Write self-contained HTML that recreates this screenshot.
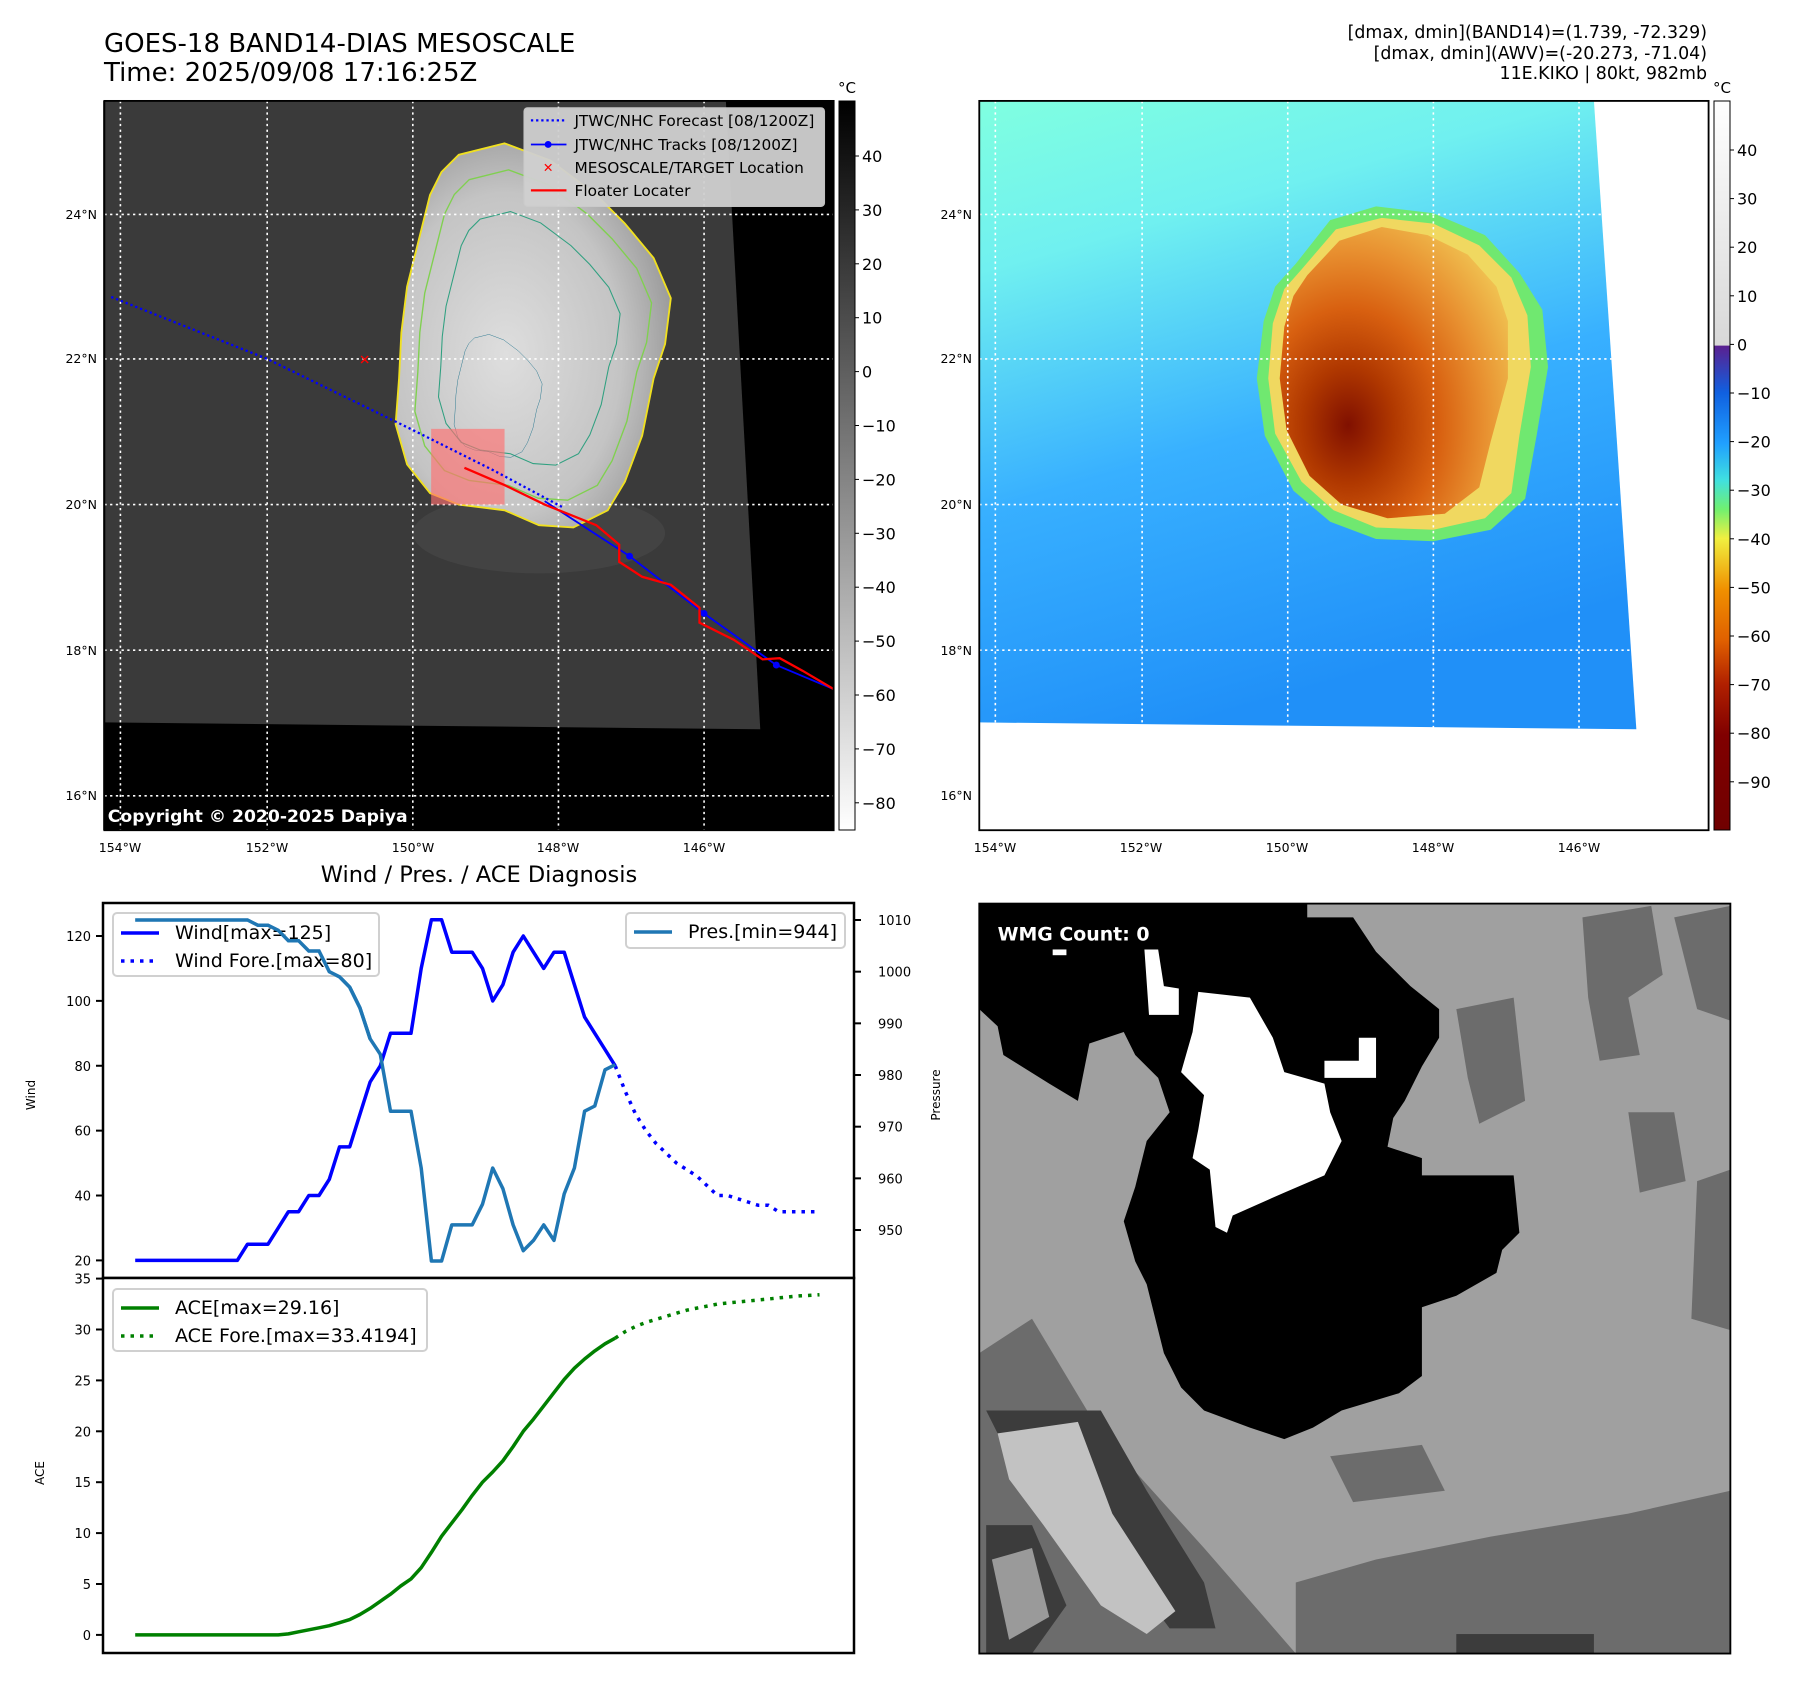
<!DOCTYPE html>
<html><head><meta charset="utf-8"><style>
html,body{margin:0;padding:0;background:#fff;}
svg{display:block;font-family:"DejaVu Sans","Liberation Sans",sans-serif;}
</style></head><body>
<svg id="root" width="1797" height="1690" viewBox="0 0 1797 1690">
<defs>
<linearGradient id="gcb" x1="0" y1="0" x2="0" y2="1"><stop offset="0" stop-color="#000"/><stop offset="1" stop-color="#fff"/></linearGradient>
<linearGradient id="ccb" x1="0" y1="0" x2="0" y2="1">
<stop offset="0" stop-color="#ffffff"/><stop offset="0.335" stop-color="#d8d8d8"/><stop offset="0.336" stop-color="#5a2090"/>
<stop offset="0.40" stop-color="#1060e0"/><stop offset="0.47" stop-color="#20a0ff"/><stop offset="0.52" stop-color="#40e0e0"/>
<stop offset="0.56" stop-color="#70f070"/><stop offset="0.60" stop-color="#f0f040"/><stop offset="0.67" stop-color="#f09000"/>
<stop offset="0.74" stop-color="#e06000"/><stop offset="0.80" stop-color="#b02000"/><stop offset="0.87" stop-color="#800000"/><stop offset="1" stop-color="#700000"/></linearGradient>
<linearGradient id="sea2" x1="0" y1="0" x2="0.3" y2="1"><stop offset="0" stop-color="#80ffe0"/><stop offset="0.25" stop-color="#70f0f0"/><stop offset="0.6" stop-color="#38b0ff"/><stop offset="1" stop-color="#2090f8"/></linearGradient>
<radialGradient id="core2" cx="0.3" cy="0.68" r="0.8"><stop offset="0" stop-color="#801000"/><stop offset="0.25" stop-color="#b03800"/><stop offset="0.5" stop-color="#d86010"/><stop offset="0.75" stop-color="#e89030"/><stop offset="1" stop-color="#f0c050"/></radialGradient>
<radialGradient id="core1" cx="0.4" cy="0.55" r="0.7"><stop offset="0" stop-color="#dedede"/><stop offset="0.6" stop-color="#c4c4c4"/><stop offset="1" stop-color="#8a8a8a"/></radialGradient>
<path id="storm1" d="M400,135 L440,125 L480,140 L520,170 L545,195 L570,225 L585,260 L580,300 L570,330 L560,380 L545,420 L530,445 L500,460 L470,458 L440,445 L400,440 L375,430 L355,405 L345,370 L348,330 L350,290 L355,250 L365,210 L375,170 L385,150 Z"/>
</defs>

<text x="104" y="52" font-size="26">GOES-18 BAND14-DIAS MESOSCALE</text>
<text x="104" y="81" font-size="26">Time: 2025/09/08 17:16:25Z</text>
<g font-size="17.4" text-anchor="end">
<text x="1707" y="38">[dmax, dmin](BAND14)=(1.739, -72.329)</text>
<text x="1707" y="59">[dmax, dmin](AWV)=(-20.273, -71.04)</text>
<text x="1707" y="79">11E.KIKO | 80kt, 982mb</text>
</g>

<g transform="scale(1.1467)">
<rect x="90" y="88" width="637" height="636" fill="#000"/>
<polygon points="91,88 633,88 663,636 91,630" fill="#3a3a3a"/>
<ellipse cx="470" cy="465" rx="110" ry="35" fill="#4a4a4a" opacity="0.6"/>
<use href="#storm1" fill="url(#core1)"/>
<use href="#storm1" fill="none" stroke="#f0e020" stroke-width="1.6"/>
<use href="#storm1" fill="none" stroke="#80d050" stroke-width="1.4" transform="translate(465,290) scale(0.86) translate(-465,-290)"/>
<use href="#storm1" fill="none" stroke="#30a080" stroke-width="1.4" transform="translate(455,300) scale(0.66) translate(-455,-300)"/>
<use href="#storm1" fill="none" stroke="#2a7890" stroke-width="1.3" transform="translate(420,370) scale(0.32) translate(-420,-370)"/>
<g stroke="#fff" stroke-width="1.4" stroke-dasharray="2,3" fill="none">
<line x1="105" y1="88" x2="105" y2="724"/><line x1="233" y1="88" x2="233" y2="724"/><line x1="360" y1="88" x2="360" y2="724"/><line x1="487" y1="88" x2="487" y2="724"/><line x1="614" y1="88" x2="614" y2="724"/>
<line x1="91" y1="187" x2="727" y2="187"/><line x1="91" y1="313" x2="727" y2="313"/><line x1="91" y1="440" x2="727" y2="440"/><line x1="91" y1="567" x2="727" y2="567"/><line x1="91" y1="694" x2="727" y2="694"/>
</g>
<rect x="376" y="374" width="64" height="66" fill="#ff7070" opacity="0.65"/>
<polyline points="97,259 233,313 360,375 430,410 490,442" fill="none" stroke="#0000ff" stroke-width="2" stroke-dasharray="2,2.5"/>
<polyline points="475,437 549,485 614,535 677,580 727,601" fill="none" stroke="#0000ff" stroke-width="1.6"/>
<circle cx="549" cy="485" r="3" fill="#0000ff"/><circle cx="614" cy="535" r="3" fill="#0000ff"/><circle cx="677" cy="580" r="3" fill="#0000ff"/>
<polyline points="405,408 440,423 475,440 520,458 540,475 540,490 560,503 585,510 610,530 610,543 640,558 665,575 680,574 700,585 727,601" fill="none" stroke="#ff0000" stroke-width="2"/>
<text x="318" y="318" font-size="12" fill="#ff0000" text-anchor="middle" font-weight="bold">✕</text>
<g>
<rect x="457" y="94" width="262" height="86" rx="3" fill="#d0d0d0" opacity="0.95" stroke="#ccc"/>
<line x1="463" y1="105" x2="494" y2="105" stroke="#0000ff" stroke-width="2" stroke-dasharray="2,2.5"/>
<line x1="463" y1="126" x2="494" y2="126" stroke="#0000ff" stroke-width="1.5"/><circle cx="478" cy="126" r="3" fill="#0000ff"/>
<text x="478" y="150" font-size="11" fill="#f00" text-anchor="middle" font-weight="bold">✕</text>
<line x1="463" y1="166" x2="494" y2="166" stroke="#f00" stroke-width="2"/>
<g font-size="13.4" fill="#000"><text x="501" y="110">JTWC/NHC Forecast [08/1200Z]</text><text x="501" y="131">JTWC/NHC Tracks [08/1200Z]</text><text x="501" y="151">MESOSCALE/TARGET Location</text><text x="501" y="171">Floater Locater</text></g>
</g>
<text x="94" y="717" font-size="15" font-weight="bold" fill="#fff">Copyright © 2020-2025 Dapiya</text>
<rect x="91" y="88" width="636" height="636" fill="none" stroke="#000" stroke-width="1.6"/>
</g>
<g font-size="12.5" text-anchor="end">
<text x="97" y="219">24°N</text><text x="97" y="363">22°N</text><text x="97" y="509">20°N</text><text x="97" y="655">18°N</text><text x="97" y="800">16°N</text></g>
<g font-size="12.5" text-anchor="middle">
<text x="120" y="852">154°W</text><text x="267" y="852">152°W</text><text x="413" y="852">150°W</text><text x="558" y="852">148°W</text><text x="704" y="852">146°W</text></g>
<rect x="839" y="101" width="16" height="729" fill="url(#gcb)" stroke="#000" stroke-width="1"/>
<text x="847" y="93" font-size="15" text-anchor="middle">°C</text>
<g id="cb1" font-size="16"></g>

<g transform="scale(1.1467)">
<rect x="854" y="88" width="636" height="636" fill="#fff"/>
<polygon points="854,88 1390,88 1427,636 854,630" fill="url(#sea2)"/>
<path d="M1130,230 L1160,192 L1200,180 L1250,186 L1295,205 L1325,238 L1345,270 L1350,320 L1340,380 L1330,435 L1300,462 L1250,472 L1200,470 L1160,455 L1128,428 L1103,380 L1096,330 L1102,280 L1112,250 Z" fill="#70e870"/>
<path d="M1135,235 L1165,200 L1205,190 L1250,195 L1290,214 L1318,242 L1332,275 L1335,320 L1325,380 L1318,430 L1295,452 L1250,462 L1200,460 L1163,445 L1135,420 L1112,378 L1106,330 L1110,282 L1120,252 Z" fill="#f0d860"/>
<path d="M1140,240 L1168,210 L1205,198 L1245,205 L1280,222 L1305,250 L1315,280 L1315,330 L1300,385 L1290,425 L1260,448 L1210,452 L1170,440 L1142,415 L1122,375 L1116,330 L1120,285 L1128,258 Z" fill="url(#core2)"/>
<g stroke="#fff" stroke-width="1.4" stroke-dasharray="2,3" fill="none">
<line x1="868" y1="88" x2="868" y2="724"/><line x1="996" y1="88" x2="996" y2="724"/><line x1="1123" y1="88" x2="1123" y2="724"/><line x1="1250" y1="88" x2="1250" y2="724"/><line x1="1377" y1="88" x2="1377" y2="724"/>
<line x1="854" y1="187" x2="1490" y2="187"/><line x1="854" y1="313" x2="1490" y2="313"/><line x1="854" y1="440" x2="1490" y2="440"/><line x1="854" y1="567" x2="1490" y2="567"/><line x1="854" y1="694" x2="1490" y2="694"/>
</g>
<rect x="854" y="88" width="636" height="636" fill="none" stroke="#000" stroke-width="1.6"/>
</g>
<g font-size="12.5" text-anchor="end">
<text x="972" y="219">24°N</text><text x="972" y="363">22°N</text><text x="972" y="509">20°N</text><text x="972" y="655">18°N</text><text x="972" y="800">16°N</text></g>
<g font-size="12.5" text-anchor="middle">
<text x="995" y="852">154°W</text><text x="1141" y="852">152°W</text><text x="1287" y="852">150°W</text><text x="1433" y="852">148°W</text><text x="1579" y="852">146°W</text></g>
<rect x="1714" y="101" width="16" height="729" fill="url(#ccb)" stroke="#000" stroke-width="1"/>
<text x="1722" y="93" font-size="15" text-anchor="middle">°C</text>
<g id="cb2" font-size="16"></g>

<text x="479" y="882" font-size="22.5" text-anchor="middle">Wind / Pres. / ACE Diagnosis</text>
<g id="chart"></g>

<g transform="scale(1.1467)">
<rect x="854" y="788" width="655" height="654" fill="#a0a0a0"/>
<g fill="#6c6c6c">
<polygon points="1380,800 1440,790 1450,850 1420,870 1430,920 1395,925 1385,870"/>
<polygon points="1460,800 1509,790 1509,890 1480,880"/>
<polygon points="1270,880 1320,870 1330,960 1290,980 1280,940"/>
<polygon points="1420,970 1460,970 1470,1030 1430,1040"/>
<polygon points="1480,1030 1509,1020 1509,1160 1475,1150"/>
<polygon points="1130,1442 1509,1442 1509,1300 1420,1320 1300,1340 1200,1360 1130,1380"/>
<polygon points="854,1180 854,1442 1130,1442 1050,1350 960,1250 900,1150"/>
<polygon points="1160,1270 1240,1260 1260,1300 1180,1310"/>
</g>
<g fill="#3c3c3c">
<polygon points="860,1230 960,1230 1000,1300 1050,1380 1060,1420 1020,1420 990,1380 940,1300 880,1270"/>
<polygon points="860,1330 900,1330 930,1400 900,1442 860,1442"/>
<rect x="1270" y="1425" width="120" height="17"/>
</g>
<polygon points="870,1250 940,1240 970,1320 1025,1405 1000,1425 960,1400 910,1330 880,1290" fill="#c2c2c2"/>
<polygon points="865,1360 900,1350 915,1410 880,1430" fill="#9a9a9a"/>
<path d="M854,788 L1140,788 L1140,800 L1180,800 L1200,830 L1230,860 L1255,880 L1255,905 L1240,930 L1225,960 L1215,975 L1210,1000 L1240,1010 L1240,1025 L1320,1025 L1325,1075 L1310,1090 L1305,1110 L1270,1130 L1240,1140 L1240,1200 L1220,1215 L1170,1230 L1145,1245 L1120,1255 L1090,1245 L1050,1230 L1030,1210 L1015,1180 L1000,1120 L990,1100 L980,1065 L990,1035 L1000,995 L1020,970 L1010,940 L990,920 L980,900 L950,910 L940,960 L915,945 L875,920 L870,895 L854,880 Z" fill="#000"/>
<g fill="#fff">
<path d="M1045,865 L1090,870 L1110,905 L1120,935 L1155,945 L1160,970 L1170,995 L1155,1025 L1120,1040 L1075,1060 L1070,1075 L1060,1070 L1055,1020 L1040,1010 L1045,985 L1050,955 L1030,935 L1040,900 Z"/>
<polygon points="998,828 1010,828 1015,860 1028,862 1028,885 1002,885"/>
<polygon points="1155,925 1185,925 1185,905 1200,905 1200,940 1155,940"/>
<rect x="918" y="828" width="12" height="5"/>
</g>
<text x="870" y="820" font-size="16.5" font-weight="bold" fill="#fff">WMG Count: 0</text>
<rect x="854" y="788" width="655" height="654" fill="none" stroke="#000" stroke-width="1.6"/>
</g>
</svg>
<script>
var xIndex = [];
for (var k = 0; k <= 67; k++) xIndex.push(k);
var windObs = [20,20,20,20,20,20,20,20,20,20,20,25,25,25,30,35,35,40,40,45,55,55,65,75,80,90,90,90,110,125,125,115,115,115,110,100,105,115,120,115,110,115,115,105,95,90,85,80];
var windFore = [80,72,65,60,56,53,50,48,46,43,40,40,39,38,37,37,35,35,35,35,35];
var presObs = [1010,1010,1010,1010,1010,1010,1010,1010,1010,1010,1010,1010,1009,1009,1008,1006,1006,1004,1004,1000,999,997,993,987,984,973,973,973,962,944,944,951,951,951,955,962,958,951,946,948,951,948,957,962,973,974,981,982];
var aceObs = [0,0,0,0,0,0,0,0,0,0,0,0,0,0,0,0.1,0.3,0.5,0.7,0.9,1.2,1.5,2.0,2.6,3.3,4.0,4.8,5.5,6.6,8.1,9.7,11.0,12.3,13.7,15.0,16.0,17.1,18.5,20.0,21.2,22.5,23.8,25.1,26.2,27.1,27.9,28.6,29.16];
var aceFore = [29.16,29.8,30.3,30.7,31.0,31.3,31.6,31.9,32.1,32.3,32.5,32.6,32.7,32.8,32.9,33.0,33.1,33.2,33.3,33.35,33.42];
var windTicks = [20,40,60,80,100,120];
var presTicks = [950,960,970,980,990,1000,1010];
var aceTicks = [0,5,10,15,20,25,30,35];
var cb1Ticks = [40,30,20,10,0,-10,-20,-30,-40,-50,-60,-70,-80];
var cb2Ticks = [40,30,20,10,0,-10,-20,-30,-40,-50,-60,-70,-80,-90];

var NS = 'http://www.w3.org/2000/svg';
function mk(parent, tag, attrs, txt) {
  var e = document.createElementNS(NS, tag);
  for (var a in attrs) e.setAttribute(a, attrs[a]);
  if (txt !== undefined) e.textContent = txt;
  parent.appendChild(e);
  return e;
}
var L = 103, R = 854, T = 903, B = 1653, MID = 1278;
function xs(i) { return 135.2 + i * (819.5 - 135.2) / 67; }
function yWind(w) { return 1260.4 - (w - 20) * 3.244; }
function yPres(p) { return 920 + (1010 - p) * 5.167; }
function yAce(a) { return 1634.9 - a * 10.18; }
function pts(arr, off, fy) { return arr.map(function (v, j) { return xs(off + j).toFixed(1) + ',' + fy(v).toFixed(1); }).join(' '); }

var ch = document.getElementById('chart');
var r1 = mk(ch, 'rect', {x: L, y: T, width: R - L, height: MID - T, fill: '#fff', stroke: '#000', 'stroke-width': 2.5});


var r2 = mk(ch, 'rect', {x: L, y: MID, width: R - L, height: B - MID, fill: '#fff', stroke: '#000', 'stroke-width': 2.5});



windTicks.forEach(function (v) {
  var y = yWind(v);
  mk(ch, 'line', {x1: L - 7, y1: y, x2: L, y2: y, stroke: '#000', 'stroke-width': 2});
  var t = mk(ch, 'text', {x: L - 12, y: y + 5, 'font-size': 13, 'text-anchor': 'end'}, v);
  
  
});
presTicks.forEach(function (v) {
  var y = yPres(v);
  mk(ch, 'line', {x1: R, y1: y, x2: R + 7, y2: y, stroke: '#000', 'stroke-width': 2});
  var t = mk(ch, 'text', {x: R + 24, y: y + 5, 'font-size': 13}, v);
  
  
});
aceTicks.forEach(function (v) {
  var y = yAce(v);
  mk(ch, 'line', {x1: L - 7, y1: y, x2: L, y2: y, stroke: '#000', 'stroke-width': 2});
  var t = mk(ch, 'text', {x: L - 12, y: y + 5, 'font-size': 13, 'text-anchor': 'end'}, v);
  
  
});
var yl1 = mk(ch, 'text', {x: 35, y: 1095, 'font-size': 12, 'text-anchor': 'middle', transform: 'rotate(-90 35 1095)'}, 'Wind');


var yl2 = mk(ch, 'text', {x: 940, y: 1095, 'font-size': 12, 'text-anchor': 'middle', transform: 'rotate(-90 940 1095)'}, 'Pressure');


var yl3 = mk(ch, 'text', {x: 44, y: 1473, 'font-size': 12, 'text-anchor': 'middle', transform: 'rotate(-90 44 1473)'}, 'ACE');



var wl = mk(ch, 'polyline', {points: pts(windObs, 0, yWind), fill: 'none', stroke: '#0000ff', 'stroke-width': 3.5, 'stroke-linejoin': 'round'});


var wf = mk(ch, 'polyline', {points: pts(windFore, 47, yWind), fill: 'none', stroke: '#0000ff', 'stroke-width': 3.5, 'stroke-dasharray': '3.5,6'});


var pl = mk(ch, 'polyline', {points: pts(presObs, 0, yPres), fill: 'none', stroke: '#1f77b4', 'stroke-width': 3.5, 'stroke-linejoin': 'round'});


var al = mk(ch, 'polyline', {points: pts(aceObs, 0, yAce), fill: 'none', stroke: '#008000', 'stroke-width': 3.5, 'stroke-linejoin': 'round'});


var af = mk(ch, 'polyline', {points: pts(aceFore, 47, yAce), fill: 'none', stroke: '#008000', 'stroke-width': 3.5, 'stroke-dasharray': '3.5,6'});



var lg1 = mk(ch, 'g', {});


mk(lg1, 'rect', {x: 113, y: 913, width: 266, height: 63, rx: 4, fill: '#fff', 'fill-opacity': 0.8, stroke: '#d0d0d0', 'stroke-width': 2});
mk(lg1, 'line', {x1: 121, y1: 933, x2: 159, y2: 933, stroke: '#0000ff', 'stroke-width': 3.5});
mk(lg1, 'line', {x1: 121, y1: 961, x2: 159, y2: 961, stroke: '#0000ff', 'stroke-width': 3.5, 'stroke-dasharray': '3.5,6'});
mk(lg1, 'text', {x: 175, y: 939, 'font-size': 19}, 'Wind[max=125]');
mk(lg1, 'text', {x: 175, y: 967, 'font-size': 19}, 'Wind Fore.[max=80]');
var pl2 = mk(ch, 'polyline', {points: pts(presObs.slice(0, 24), 0, yPres), fill: 'none', stroke: '#1f77b4', 'stroke-width': 3.5});


var lg2 = mk(ch, 'g', {});


mk(lg2, 'rect', {x: 626, y: 913, width: 219, height: 35, rx: 4, fill: '#fff', 'fill-opacity': 0.8, stroke: '#d0d0d0', 'stroke-width': 2});
mk(lg2, 'line', {x1: 634, y1: 932, x2: 672, y2: 932, stroke: '#1f77b4', 'stroke-width': 3.5});
mk(lg2, 'text', {x: 688, y: 938, 'font-size': 19}, 'Pres.[min=944]');
var lg3 = mk(ch, 'g', {});


mk(lg3, 'rect', {x: 113, y: 1289, width: 314, height: 62, rx: 4, fill: '#fff', 'fill-opacity': 0.8, stroke: '#d0d0d0', 'stroke-width': 2});
mk(lg3, 'line', {x1: 121, y1: 1308, x2: 159, y2: 1308, stroke: '#008000', 'stroke-width': 3.5});
mk(lg3, 'line', {x1: 121, y1: 1336, x2: 159, y2: 1336, stroke: '#008000', 'stroke-width': 3.5, 'stroke-dasharray': '3.5,6'});
mk(lg3, 'text', {x: 175, y: 1314, 'font-size': 19}, 'ACE[max=29.16]');
mk(lg3, 'text', {x: 175, y: 1342, 'font-size': 19}, 'ACE Fore.[max=33.4194]');

var c1 = document.getElementById('cb1');
cb1Ticks.forEach(function (v, i) {
  var y = 156 + i * 53.9;
  mk(c1, 'line', {x1: 855, y1: y, x2: 859, y2: y, stroke: '#000'});
  var t = mk(c1, 'text', {x: 862, y: y + 6}, v < 0 ? '\u2212' + (-v) : v);
  
  
});
var c2 = document.getElementById('cb2');
cb2Ticks.forEach(function (v, i) {
  var y = 150 + i * 48.6;
  mk(c2, 'line', {x1: 1730, y1: y, x2: 1734, y2: y, stroke: '#000'});
  var t = mk(c2, 'text', {x: 1737, y: y + 6}, v < 0 ? '\u2212' + (-v) : v);
  
  
});
</script>
</body></html>
